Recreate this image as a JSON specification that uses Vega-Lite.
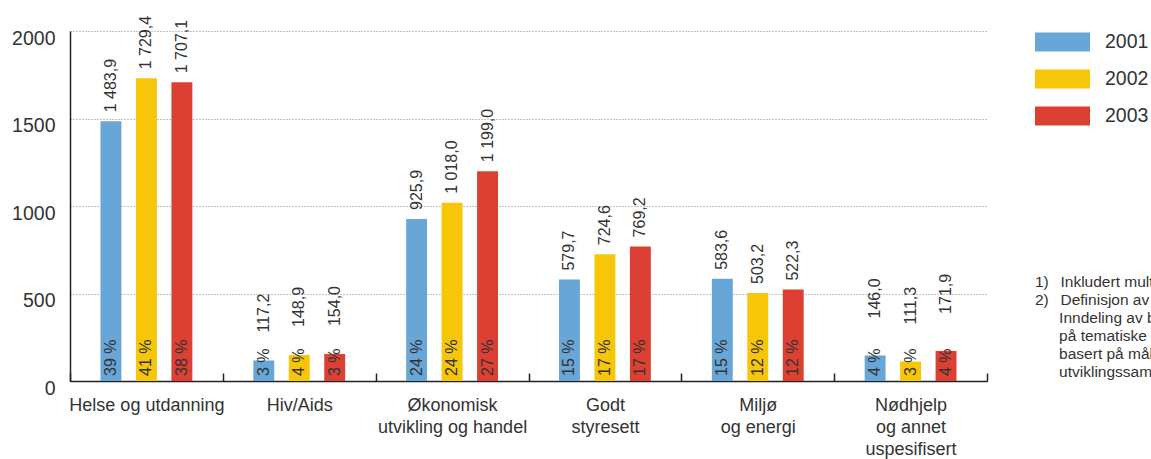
{
  "$schema": "https://vega.github.io/schema/vega-lite/v6.json",
  "autosize": {"type": "none"},
  "width": 917,
  "height": 350,
  "padding": {"left": 70, "top": 31, "right": 164, "bottom": 78},
  "background": "white",
  "title": {
    "text": [
      "1)\u00a0\u00a0\u2009Inkludert multilateral bistand over regionbevilgningene.",
      "2)\u00a0\u00a0\u2009Definisjon av tematiske områder.",
      "\u200b\u2003\u00a0\u00a0Inndeling av bistanden",
      "\u200b\u2003\u00a0\u00a0på tematiske områder er",
      "\u200b\u2003\u00a0\u00a0basert på målene for norsk",
      "\u200b\u2003\u00a0\u00a0utviklingssamarbeid."
    ],
    "orient": "top",
    "anchor": "start",
    "frame": "group",
    "align": "left",
    "baseline": "top",
    "offset": 0,
    "dx": 965,
    "dy": 366,
    "fontSize": 15.5,
    "fontWeight": "normal",
    "lineHeight": 18,
    "color": "#333333",
    "font": "Liberation Sans"
  },
  "data": {
    "values": [
      {"kategori": "Helse og utdanning", "ar": "2001", "verdi": 1483.9, "tekst": "1 483,9", "andel": "39 %"},
      {"kategori": "Helse og utdanning", "ar": "2002", "verdi": 1729.4, "tekst": "1 729,4", "andel": "41 %"},
      {"kategori": "Helse og utdanning", "ar": "2003", "verdi": 1707.1, "tekst": "1 707,1", "andel": "38 %"},
      {"kategori": "Hiv/Aids", "ar": "2001", "verdi": 117.2, "tekst": "117,2", "andel": "3 %"},
      {"kategori": "Hiv/Aids", "ar": "2002", "verdi": 148.9, "tekst": "148,9", "andel": "4 %"},
      {"kategori": "Hiv/Aids", "ar": "2003", "verdi": 154.0, "tekst": "154,0", "andel": "3 %"},
      {"kategori": "Økonomisk|utvikling og handel", "ar": "2001", "verdi": 925.9, "tekst": "925,9", "andel": "24 %"},
      {"kategori": "Økonomisk|utvikling og handel", "ar": "2002", "verdi": 1018.0, "tekst": "1 018,0", "andel": "24 %"},
      {"kategori": "Økonomisk|utvikling og handel", "ar": "2003", "verdi": 1199.0, "tekst": "1 199,0", "andel": "27 %"},
      {"kategori": "Godt|styresett", "ar": "2001", "verdi": 579.7, "tekst": "579,7", "andel": "15 %"},
      {"kategori": "Godt|styresett", "ar": "2002", "verdi": 724.6, "tekst": "724,6", "andel": "17 %"},
      {"kategori": "Godt|styresett", "ar": "2003", "verdi": 769.2, "tekst": "769,2", "andel": "17 %"},
      {"kategori": "Miljø|og energi", "ar": "2001", "verdi": 583.6, "tekst": "583,6", "andel": "15 %"},
      {"kategori": "Miljø|og energi", "ar": "2002", "verdi": 503.2, "tekst": "503,2", "andel": "12 %"},
      {"kategori": "Miljø|og energi", "ar": "2003", "verdi": 522.3, "tekst": "522,3", "andel": "12 %"},
      {"kategori": "Nødhjelp|og annet|uspesifisert", "ar": "2001", "verdi": 146.0, "tekst": "146,0", "andel": "4 %"},
      {"kategori": "Nødhjelp|og annet|uspesifisert", "ar": "2002", "verdi": 111.3, "tekst": "111,3", "andel": "3 %"},
      {"kategori": "Nødhjelp|og annet|uspesifisert", "ar": "2003", "verdi": 171.9, "tekst": "171,9", "andel": "4 %"}
    ]
  },
  "encoding": {
    "x": {
      "field": "kategori",
      "type": "nominal",
      "sort": null,
      "scale": {"paddingInner": 0, "paddingOuter": 0},
      "axis": {
        "title": null,
        "labelAngle": 0,
        "labelExpr": "split(datum.label, '|')",
        "labelFontSize": 18,
        "labelLineHeight": 22,
        "labelBaseline": "top",
        "labelPadding": 23,
        "labelColor": "#333333",
        "labelFont": "Liberation Sans",
        "tickBand": "extent",
        "tickSize": -8,
        "tickColor": "#222222",
        "tickWidth": 1.5,
        "domainColor": "#222222",
        "domainWidth": 1.5,
        "grid": false
      }
    },
    "xOffset": {
      "field": "ar",
      "type": "nominal",
      "scale": {"paddingInner": 0.41, "paddingOuter": 0.86}
    },
    "y": {
      "field": "verdi",
      "type": "quantitative",
      "scale": {"domain": [0, 2000], "nice": false},
      "axis": {
        "title": null,
        "values": [0, 500, 1000, 1500, 2000],
        "format": "d",
        "ticks": false,
        "labelPadding": 15,
        "labelFontSize": 19.5,
        "labelBaseline": "top",
        "labelOffset": -2,
        "labelColor": "#333333",
        "labelFont": "Liberation Sans",
        "domainColor": "#222222",
        "domainWidth": 1.5,
        "grid": true,
        "gridColor": "#888888",
        "gridDash": [1, 2],
        "gridWidth": 1
      }
    }
  },
  "layer": [
    {
      "mark": {"type": "bar"},
      "encoding": {
        "color": {
          "field": "ar",
          "type": "nominal",
          "scale": {"domain": ["2001", "2002", "2003"], "range": ["#67a6d6", "#f8c608", "#db4033"]},
          "legend": {
            "title": null,
            "orient": "none",
            "legendX": 965,
            "legendY": -16.5,
            "symbolType": "M-1,-0.345L1,-0.345L1,0.345L-1,0.345Z",
            "symbolSize": 3025,
            "symbolStrokeWidth": 0,
            "symbolOpacity": 1,
            "rowPadding": -6.5,
            "labelOffset": 15,
            "labelFontSize": 19.5,
            "labelColor": "#333333",
            "labelFont": "Liberation Sans"
          }
        }
      }
    },
    {
      "transform": [{"filter": "datum.verdi > 300"}],
      "mark": {"type": "text", "angle": 270, "align": "left", "baseline": "middle", "dx": 9, "fontSize": 16, "color": "#333333", "font": "Liberation Sans"},
      "encoding": {"text": {"field": "tekst"}}
    },
    {
      "transform": [{"filter": "datum.kategori == 'Hiv/Aids'"}],
      "mark": {"type": "text", "angle": 270, "align": "left", "baseline": "middle", "dx": 28, "fontSize": 16, "color": "#333333", "font": "Liberation Sans"},
      "encoding": {"text": {"field": "tekst"}}
    },
    {
      "transform": [{"filter": "datum.kategori == 'Nødhjelp|og annet|uspesifisert'"}],
      "mark": {"type": "text", "angle": 270, "align": "left", "baseline": "middle", "dx": 37, "fontSize": 16, "color": "#333333", "font": "Liberation Sans"},
      "encoding": {"text": {"field": "tekst"}}
    },
    {
      "mark": {"type": "text", "angle": 270, "align": "left", "baseline": "middle", "dx": 5, "fontSize": 16, "color": "#333333", "font": "Liberation Sans"},
      "encoding": {"text": {"field": "andel"}, "y": {"datum": 0, "type": "quantitative"}}
    }
  ],
  "config": {
    "view": {"stroke": null},
    "bar": {"stroke": null}
  }
}
